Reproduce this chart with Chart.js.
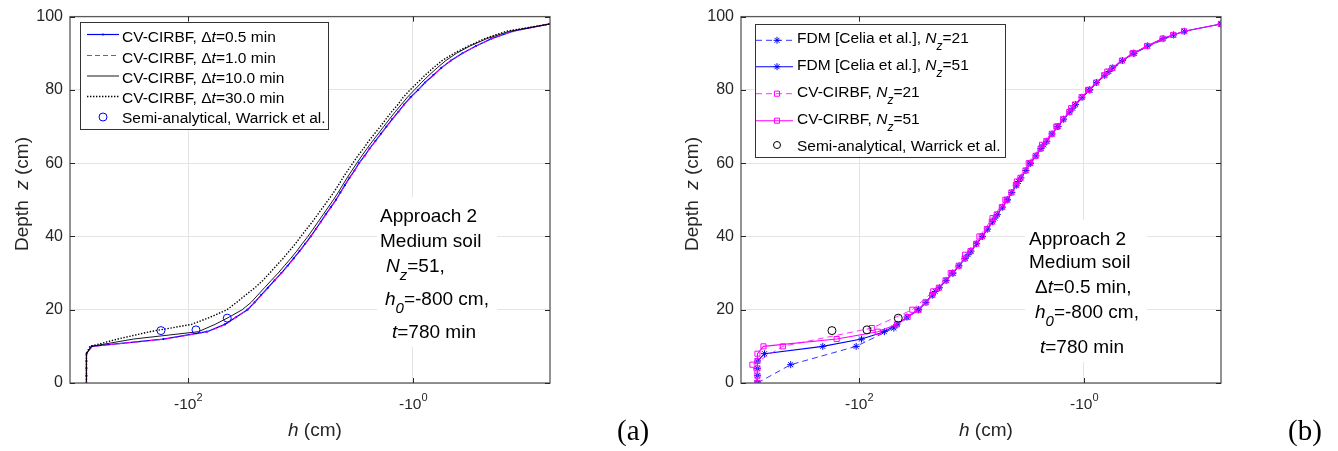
<!DOCTYPE html>
<html><head><meta charset="utf-8">
<script src="https://cdn.jsdelivr.net/npm/chart.js@4.4.0/dist/chart.umd.min.js"></script>
<style>
html,body{margin:0;padding:0;background:#fff;}
body{width:1338px;height:451px;position:relative;overflow:hidden;}
.panel{position:absolute;top:0;height:451px;}
</style></head><body>
<div class="panel" style="left:0;width:670px"><canvas id="ca"></canvas></div>
<div class="panel" style="left:670px;width:668px"><canvas id="cb"></canvas></div>
<script>
// ---------------- data ----------------
const zNodes51 = [0,2,4,6,8,10,12,14,16,18,20,22,24,26,28,30,32,34,36,38,40,42,44,46,48,50,52,54,56,58,60,62,64,66,68,70,72,74,76,78,80,82,84,86,88,90,92,94,96,98];
const zNodes21 = [0,5,10,15,20,25,30,35,40,45,50,55,60,65,70,75,80,85,90,95];

// panel (a): h (cm) at each node, N_z = 51
const hDt05 = [-800,-800,-800,-800,-798,-718,-166,-68,-47,-37.2,
  -29.6,-25.6,-22.4,-19.5,-17.0,-14.8,-13.0,-11.5,-10.2,-9.1,
  -8.1,-7.3,-6.6,-5.96,-5.37,-4.84,-4.42,-4.03,-3.67,-3.31,
  -3.02,-2.69,-2.43,-2.16,-1.93,-1.72,-1.53,-1.35,-1.20,-1.05,
  -0.90,-0.78,-0.66,-0.56,-0.46,-0.363,-0.275,-0.20,-0.129,-0.0606];
const hDt1 = [-800,-800,-800,-800,-797,-705,-158,-66,-46,-37,
  -29.4,-25.4,-22.2,-19.3,-16.9,-14.7,-12.9,-11.4,-10.1,-9.0,
  -8.05,-7.25,-6.55,-5.92,-5.33,-4.81,-4.39,-4.0,-3.64,-3.29,
  -3.0,-2.67,-2.41,-2.15,-1.92,-1.71,-1.52,-1.34,-1.19,-1.04,
  -0.895,-0.775,-0.655,-0.556,-0.457,-0.36,-0.273,-0.198,-0.128,-0.0606];
const hDt10 = [-800,-800,-800,-800,-800,-725,-305,-81,-57.5,-43,
  -33,-27.5,-24,-20.9,-18.2,-15.8,-13.9,-12.2,-10.8,-9.66,
  -8.6,-7.73,-6.97,-6.28,-5.66,-5.1,-4.62,-4.22,-3.85,-3.49,
  -3.16,-2.85,-2.56,-2.29,-2.04,-1.82,-1.62,-1.44,-1.27,-1.12,
  -0.97,-0.84,-0.72,-0.61,-0.51,-0.41,-0.31,-0.22,-0.138,-0.0606];
const hDt30 = [-800,-800,-800,-800,-800,-745,-421,-219,-93,-63,
  -45,-37,-30.8,-25.4,-21.6,-18.8,-16.4,-14.3,-12.6,-11.1,
  -9.93,-8.83,-7.83,-7.03,-6.3,-5.65,-5.07,-4.6,-4.2,-3.8,
  -3.43,-3.09,-2.75,-2.48,-2.2,-1.95,-1.74,-1.55,-1.36,-1.22,
  -1.06,-0.91,-0.78,-0.66,-0.55,-0.43,-0.32,-0.23,-0.148,-0.0606];

// semi-analytical (Warrick et al.)
const zSemi = [14.3, 14.5, 17.7];
const hSemi = [-174, -85, -44.8];

// panel (b)
const hFdm21 = [-800,-405,-106,-49,-29.7,-21.0,-14.6,-10.7,-8.0,-6.2,-4.8,-3.82,-3.0,-2.28,-1.70,-1.26,-0.89,-0.60,-0.36,-0.16];
const hFdm51 = [-800,-800,-800,-800,-692,-210,-95,-59.5,-46,-37.5,
  -29.5,-25.4,-22.2,-19.3,-16.8,-14.7,-12.9,-11.4,-10.1,-9.0,
  -8.0,-7.2,-6.5,-5.9,-5.3,-4.8,-4.38,-3.99,-3.63,-3.28,
  -2.99,-2.67,-2.41,-2.14,-1.92,-1.71,-1.52,-1.34,-1.19,-1.04,
  -0.89,-0.775,-0.655,-0.555,-0.455,-0.36,-0.272,-0.198,-0.128,-0.0606];
const hCv21 = [-800,-887,-476,-77,-33.6,-21.9,-15.3,-11.4,-8.5,-6.5,-5.0,-3.95,-3.1,-2.36,-1.76,-1.30,-0.92,-0.62,-0.37,-0.161];
const hCv51 = [-800,-800,-800,-800,-800,-707,-158,-68,-46,-37,
  -29.6,-25.6,-22.4,-19.5,-17.0,-14.8,-13.0,-11.5,-10.2,-9.1,
  -8.1,-7.3,-6.6,-5.96,-5.37,-4.84,-4.42,-4.03,-3.67,-3.31,
  -3.02,-2.69,-2.43,-2.16,-1.93,-1.72,-1.53,-1.35,-1.20,-1.05,
  -0.90,-0.78,-0.66,-0.56,-0.46,-0.363,-0.275,-0.20,-0.129,-0.0606];

// axes
const xAbsMin = 0.0605, xAbsMax = 1120;      // |h| range of the log axis
const xTickValues = [100, 1];                // shown as -10^2, -10^0
const xTickBase = '-10';
const xTickExps = ['2', '0'];
const yTickValues = [0, 20, 40, 60, 80, 100];

// ---------------- helpers ----------------
const FONT = 'Arial, "Liberation Sans", Helvetica, sans-serif';
const SERIF = '"Liberation Serif", "Times New Roman", serif';
const GRID = '#e4e4e4';
Chart.defaults.font.family = FONT;

function pts(z, h) { return z.map((zz, i) => ({ x: -h[i], y: zz })); }

function drawRich(ctx, x, y, parts, size, color, measureOnly) {
  let cx = Math.round(x);
  const by = Math.round(y);
  for (const p of parts) {
    const t = p[0], f = p[1] || '';
    const small = f.includes('s') || f.includes('p');
    const s = small ? Math.round(size * (f.includes('p') ? 0.7 : 0.8)) : size;
    ctx.font = (f.includes('i') ? 'italic ' : '') + s + 'px ' + FONT;
    const dy = f.includes('s') ? Math.round(size * 0.42) : (f.includes('p') ? -Math.round(size * 0.5) : 0);
    if (!measureOnly) { ctx.fillStyle = color; ctx.fillText(t, cx, by + dy); }
    cx += ctx.measureText(t).width;
  }
  return cx - Math.round(x);
}

function drawMarker(ctx, type, x, y, r, color) {
  ctx.save();
  ctx.strokeStyle = color; ctx.fillStyle = color; ctx.lineWidth = 1; ctx.setLineDash([]);
  ctx.beginPath();
  if (type === 'dot') { ctx.arc(x, y, r, 0, Math.PI * 2); ctx.fill(); }
  else if (type === 'circle') { ctx.arc(x, y, r, 0, Math.PI * 2); ctx.stroke(); }
  else if (type === 'rect') { const s = r * Math.SQRT1_2; ctx.rect(x - s, y - s, 2 * s, 2 * s); ctx.stroke(); }
  else if (type === 'star') {
    ctx.moveTo(x - r, y); ctx.lineTo(x + r, y);
    ctx.moveTo(x, y - r); ctx.lineTo(x, y + r);
    const d = r * Math.SQRT1_2;
    ctx.moveTo(x - d, y - d); ctx.lineTo(x + d, y + d);
    ctx.moveTo(x - d, y + d); ctx.lineTo(x + d, y - d);
    ctx.stroke();
  }
  ctx.restore();
}

function makeDeco(spec) {
  const o = spec.off;
  return {
    id: 'deco',
    beforeDatasetsDraw(chart) {
      const ctx = chart.ctx, b = spec.noteBox;
      ctx.save(); ctx.fillStyle = '#fff';
      ctx.fillRect(b[0] - o, b[1], b[2] - b[0], b[3] - b[1]);
      ctx.restore();
    },
    afterDraw(chart) {
      const ctx = chart.ctx, a = chart.chartArea;
      const xs = chart.scales.x, ys = chart.scales.y;
      ctx.save();
      ctx.textAlign = 'left'; ctx.textBaseline = 'alphabetic';
      // box
      ctx.strokeStyle = '#5a5a5a'; ctx.lineWidth = 1.3; ctx.setLineDash([]);
      ctx.strokeRect(a.left, a.top, a.right - a.left, a.bottom - a.top);
      // inward ticks
      ctx.strokeStyle = '#262626'; ctx.lineWidth = 1;
      ctx.beginPath();
      yTickValues.forEach(v => {
        const py = Math.round(ys.getPixelForValue(v)) + 0.5;
        ctx.moveTo(a.left, py); ctx.lineTo(a.left + 5, py);
        ctx.moveTo(a.right, py); ctx.lineTo(a.right - 5, py);
      });
      xTickValues.forEach(v => {
        const px = Math.round(xs.getPixelForValue(v)) + 0.5;
        ctx.moveTo(px, a.bottom); ctx.lineTo(px, a.bottom - 5);
        ctx.moveTo(px, a.top); ctx.lineTo(px, a.top + 5);
      });
      ctx.stroke();
      // x tick labels
      xTickValues.forEach((v, i) => {
        const parts = [[xTickBase], [xTickExps[i], 'p']];
        const w = drawRich(ctx, 0, 0, parts, 15.5, '#262626', true);
        const px = xs.getPixelForValue(v);
        drawRich(ctx, px - w / 2, 409, parts, 15.5, '#262626');
      });
      // axis titles
      drawRich(ctx, spec.xTitleX - o, 436, [['h', 'i'], [' (cm)']], 19, '#262626');
      ctx.save();
      ctx.translate(Math.round(spec.yTitleX - o), 194);
      ctx.rotate(-Math.PI / 2);
      const yt = [['Depth  '], ['z', 'i'], [' (cm)']];
      const wy = drawRich(ctx, 0, 0, yt, 19, '#262626', true);
      drawRich(ctx, -wy / 2, 0, yt, 19, '#262626');
      ctx.restore();
      // annotation
      spec.note.forEach(l => drawRich(ctx, l.x - o, l.y, l.parts, 19, '#000'));
      // legend
      const L = spec.legend, bx = L.box;
      ctx.fillStyle = '#fff';
      ctx.fillRect(bx[0] - o, bx[1], bx[2] - bx[0], bx[3] - bx[1]);
      ctx.strokeStyle = '#333'; ctx.lineWidth = 1;
      ctx.strokeRect(Math.round(bx[0] - o) + 0.5, Math.round(bx[1]) + 0.5, Math.round(bx[2] - bx[0]), Math.round(bx[3] - bx[1]));
      L.rows.forEach(r => {
        if (r.line) {
          ctx.save();
          ctx.strokeStyle = r.color; ctx.lineWidth = r.width; ctx.setLineDash(r.dash || []);
          ctx.beginPath(); ctx.moveTo(L.lineX[0] - o, r.my); ctx.lineTo(L.lineX[1] - o, r.my); ctx.stroke();
          ctx.restore();
        }
        if (r.marker) drawMarker(ctx, r.marker, L.markX - o, r.my, r.mr, r.color);
        drawRich(ctx, L.textX - o, r.by, r.parts, 15.5, '#000');
      });
      // panel letter
      ctx.font = '29px ' + SERIF; ctx.fillStyle = '#000';
      ctx.fillText(spec.letter, Math.round(spec.letterX - o), 440);
      ctx.restore();
    }
  };
}

function makeChart(id, datasets, spec, yWidth, padRight) {
  datasets.forEach((d, i) => { d.order = 20 - i; d.clip = 0; d.tension = 0; });
  return new Chart(document.getElementById(id), {
    type: 'line',
    data: { datasets },
    options: {
      responsive: true, maintainAspectRatio: false, animation: false,
      parsing: false, normalized: true,
      layout: { padding: { left: 0, right: padRight, top: 12, bottom: 0 } },
      plugins: { legend: { display: false }, tooltip: { enabled: false } },
      scales: {
        x: {
          type: 'logarithmic', reverse: true, min: xAbsMin, max: xAbsMax,
          afterBuildTicks: s => { s.ticks = xTickValues.map(v => ({ value: v })); },
          afterFit: s => { s.height = 68; },
          ticks: { display: false },
          grid: { color: GRID, drawTicks: false, lineWidth: 1 },
          border: { display: false }
        },
        y: {
          type: 'linear', min: 0, max: 100,
          afterBuildTicks: s => { s.ticks = yTickValues.map(v => ({ value: v })); },
          afterFit: s => { s.width = yWidth; },
          ticks: { font: { size: 16, family: FONT }, color: '#262626', padding: 7 },
          grid: { color: GRID, drawTicks: false, lineWidth: 1 },
          border: { display: false }
        }
      }
    },
    plugins: [makeDeco(spec)]
  });
}

// ---------------- panel (a) ----------------
const BLUE = '#0000ff', MAG = '#ff00ff', BLK = '#000000';
const dsA = [
  { data: pts(zNodes51, hDt05), borderColor: BLUE, borderWidth: 1.2, pointRadius: 1.1, pointStyle: 'circle', pointBackgroundColor: BLUE, pointBorderWidth: 0 },
  { data: pts(zNodes51, hDt1), borderColor: MAG, borderWidth: 1, borderDash: [5, 3], pointRadius: 0 },
  { data: pts(zNodes51, hDt10), borderColor: BLK, borderWidth: 0.9, pointRadius: 0 },
  { data: pts(zNodes51, hDt30), borderColor: BLK, borderWidth: 1.4, borderDash: [1.4, 1.6], pointRadius: 0 },
  { data: pts(zSemi, hSemi), showLine: false, pointStyle: 'circle', pointRadius: 4, pointBorderColor: BLUE, pointBackgroundColor: 'rgba(0,0,0,0)', pointBorderWidth: 1 }
];
const specA = {
  off: 0, yTitleX: 27.5, xTitleX: 288, letter: '(a)', letterX: 617,
  noteBox: [377, 197, 497, 347],
  note: [
    { x: 380, y: 222, parts: [['Approach 2']] },
    { x: 380, y: 247, parts: [['Medium soil']] },
    { x: 386, y: 272, parts: [['N', 'i'], ['z', 'is'], ['=51,']] },
    { x: 385, y: 305, parts: [['h', 'i'], ['0', 'is'], ['=-800 cm,']] },
    { x: 392, y: 338, parts: [['t', 'i'], ['=780 min']] }
  ],
  legend: {
    box: [80, 22, 328, 129], lineX: [87, 119], markX: 103, textX: 122,
    rows: [
      { line: true, color: BLUE, width: 1.2, marker: 'dot', mr: 1.1, my: 34.5, by: 42, parts: [['CV-CIRBF, Δ'], ['t', 'i'], ['=0.5 min']] },
      { line: true, color: MAG, width: 1, dash: [5, 3], my: 55.5, by: 63, parts: [['CV-CIRBF, Δ'], ['t', 'i'], ['=1.0 min']] },
      { line: true, color: BLK, width: 0.9, my: 76, by: 83, parts: [['CV-CIRBF, Δ'], ['t', 'i'], ['=10.0 min']] },
      { line: true, color: BLK, width: 1.4, dash: [1.4, 1.6], my: 96.5, by: 103, parts: [['CV-CIRBF, Δ'], ['t', 'i'], ['=30.0 min']] },
      { line: false, color: BLUE, marker: 'circle', mr: 4, my: 117, by: 123, parts: [['Semi-analytical, Warrick et al.']] }
    ]
  }
};
makeChart('ca', dsA, specA, 70, 120);

// ---------------- panel (b) ----------------
const dsB = [
  { data: pts(zNodes21, hFdm21), borderColor: BLUE, borderWidth: 0.8, borderDash: [6, 4], pointStyle: 'star', pointRadius: 3.5, pointBorderColor: BLUE, pointBackgroundColor: 'rgba(0,0,0,0)', pointBorderWidth: 1 },
  { data: pts(zNodes51, hFdm51), borderColor: BLUE, borderWidth: 1.1, pointStyle: 'star', pointRadius: 3.5, pointBorderColor: BLUE, pointBackgroundColor: 'rgba(0,0,0,0)', pointBorderWidth: 1 },
  { data: pts(zNodes21, hCv21), borderColor: MAG, borderWidth: 0.8, borderDash: [6, 4], pointStyle: 'rect', pointRadius: 3.6, pointBorderColor: MAG, pointBackgroundColor: 'rgba(0,0,0,0)', pointBorderWidth: 1 },
  { data: pts(zNodes51, hCv51), borderColor: MAG, borderWidth: 1.1, pointStyle: 'rect', pointRadius: 3.6, pointBorderColor: MAG, pointBackgroundColor: 'rgba(0,0,0,0)', pointBorderWidth: 1 },
  { data: pts(zSemi, hSemi), showLine: false, pointStyle: 'circle', pointRadius: 4, pointBorderColor: BLK, pointBackgroundColor: 'rgba(0,0,0,0)', pointBorderWidth: 1 }
];
const specB = {
  off: 670, yTitleX: 697.6, xTitleX: 959.3, letter: '(b)', letterX: 1288,
  noteBox: [1025, 220, 1147, 362],
  note: [
    { x: 1029, y: 245, parts: [['Approach 2']] },
    { x: 1029, y: 268, parts: [['Medium soil']] },
    { x: 1035, y: 293, parts: [['Δ'], ['t', 'i'], ['=0.5 min,']] },
    { x: 1035, y: 318, parts: [['h', 'i'], ['0', 'is'], ['=-800 cm,']] },
    { x: 1040, y: 353, parts: [['t', 'i'], ['=780 min']] }
  ],
  legend: {
    box: [754.5, 23.5, 1004, 156], lineX: [756, 793], markX: 777, textX: 797,
    rows: [
      { line: true, color: BLUE, width: 0.8, dash: [6, 4], marker: 'star', mr: 3.5, my: 40.3, by: 43, parts: [['FDM [Celia et al.], '], ['N', 'i'], ['z', 'is'], ['=21']] },
      { line: true, color: BLUE, width: 1.1, marker: 'star', mr: 3.5, my: 66.7, by: 70, parts: [['FDM [Celia et al.], '], ['N', 'i'], ['z', 'is'], ['=51']] },
      { line: true, color: MAG, width: 0.8, dash: [6, 4], marker: 'rect', mr: 3.6, my: 93.7, by: 97, parts: [['CV-CIRBF, '], ['N', 'i'], ['z', 'is'], ['=21']] },
      { line: true, color: MAG, width: 1.1, marker: 'rect', mr: 3.6, my: 120.7, by: 124, parts: [['CV-CIRBF, '], ['N', 'i'], ['z', 'is'], ['=51']] },
      { line: false, color: BLK, marker: 'circle', mr: 3.5, my: 145, by: 151, parts: [['Semi-analytical, Warrick et al.']] }
    ]
  }
};
makeChart('cb', dsB, specB, 71, 117);
</script>
</body></html>
